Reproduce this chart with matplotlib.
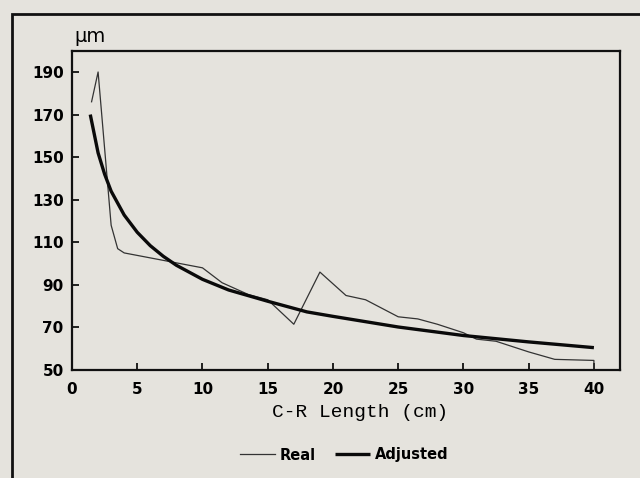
import numpy as np
import matplotlib
matplotlib.use("Agg")
import matplotlib.pyplot as plt
from matplotlib.patches import Rectangle

# Data
real_x = [1.5, 2, 3, 3.5, 4, 7, 10, 11.5, 13.5, 15, 17, 19, 21, 22.5,
          25, 26.5, 28, 30, 31, 32.5, 35, 37, 40, 40]
real_y = [176, 190, 118, 107, 105, 101.5, 98, 91, 85.5, 83, 71.5, 96, 85, 83,
          75, 74, 71.5, 67.5, 64.5, 63.5, 58.5, 55, 54.5, 50]

adj_x = [1.4, 2, 2.5, 3, 4, 5, 6, 7, 8, 10, 12, 15, 18, 20, 25, 30, 35, 40]
adj_y = [170, 152, 142, 134, 122.8, 114.7, 108.4, 103.4, 99.2, 92.6, 87.6,
         82.3, 77.3, 75.2, 70.2, 66.2, 63.2, 60.5]

x_ticks = [0, 5, 10, 15, 20, 25, 30, 35, 40]
y_ticks = [50, 70, 90, 110, 130, 150, 170, 190]

bg = '#e5e3dd'
fig = plt.figure(figsize=(6.4, 4.78), dpi=100, facecolor=bg)

# outer frame of the scanned figure (runs off the right and bottom edge)
fig.patches.append(Rectangle((12/640, -0.05), 1.0, 1 - 14/478 + 0.05,
                             transform=fig.transFigure, fill=False,
                             edgecolor='#111111', linewidth=2.0))

ax = fig.add_axes([72/640, 1 - 370/478, (620 - 72)/640, (370 - 50.7)/478])
ax.set_facecolor(bg)

ax.plot(real_x, real_y, color='#333333', linewidth=0.9, label='Real')
ax.plot(adj_x, adj_y, color='#0a0a0a', linewidth=2.4, label='Adjusted',
        solid_capstyle='butt')

tick_font = dict(fontfamily='DejaVu Sans', fontweight='bold', fontsize=11)
ax.set_xlim(0, 42)
ax.set_ylim(50, 200)
ax.set_xticks(x_ticks)
ax.set_yticks(y_ticks)
ax.set_xticklabels([str(v) for v in x_ticks], **tick_font)
ax.set_yticklabels([str(v) for v in y_ticks], **tick_font)
ax.tick_params(direction='in', length=5, width=1.3, color='#111111')
ax.tick_params(axis='x', pad=9)
ax.tick_params(axis='y', pad=6)
for s in ax.spines.values():
    s.set_linewidth(1.6)
    s.set_color('#111111')

ax.set_xlabel('C-R Length (cm)', fontfamily='Liberation Mono', fontsize=14)
ax.xaxis.set_label_coords((360 - 72)/548, -0.105)

fig.text(74/640, 1 - 37/478, 'µm', fontfamily='DejaVu Sans', fontsize=14,
         ha='left', va='center')

leg = fig.legend(loc='center', bbox_to_anchor=(344/640, 1 - 455/478), ncol=2,
                 frameon=False, handlelength=2.4, columnspacing=1.3,
                 handletextpad=0.35,
                 prop={'family': 'DejaVu Sans', 'weight': 'bold', 'size': 10.5})

fig.savefig('out.png', dpi=100, facecolor=bg)
